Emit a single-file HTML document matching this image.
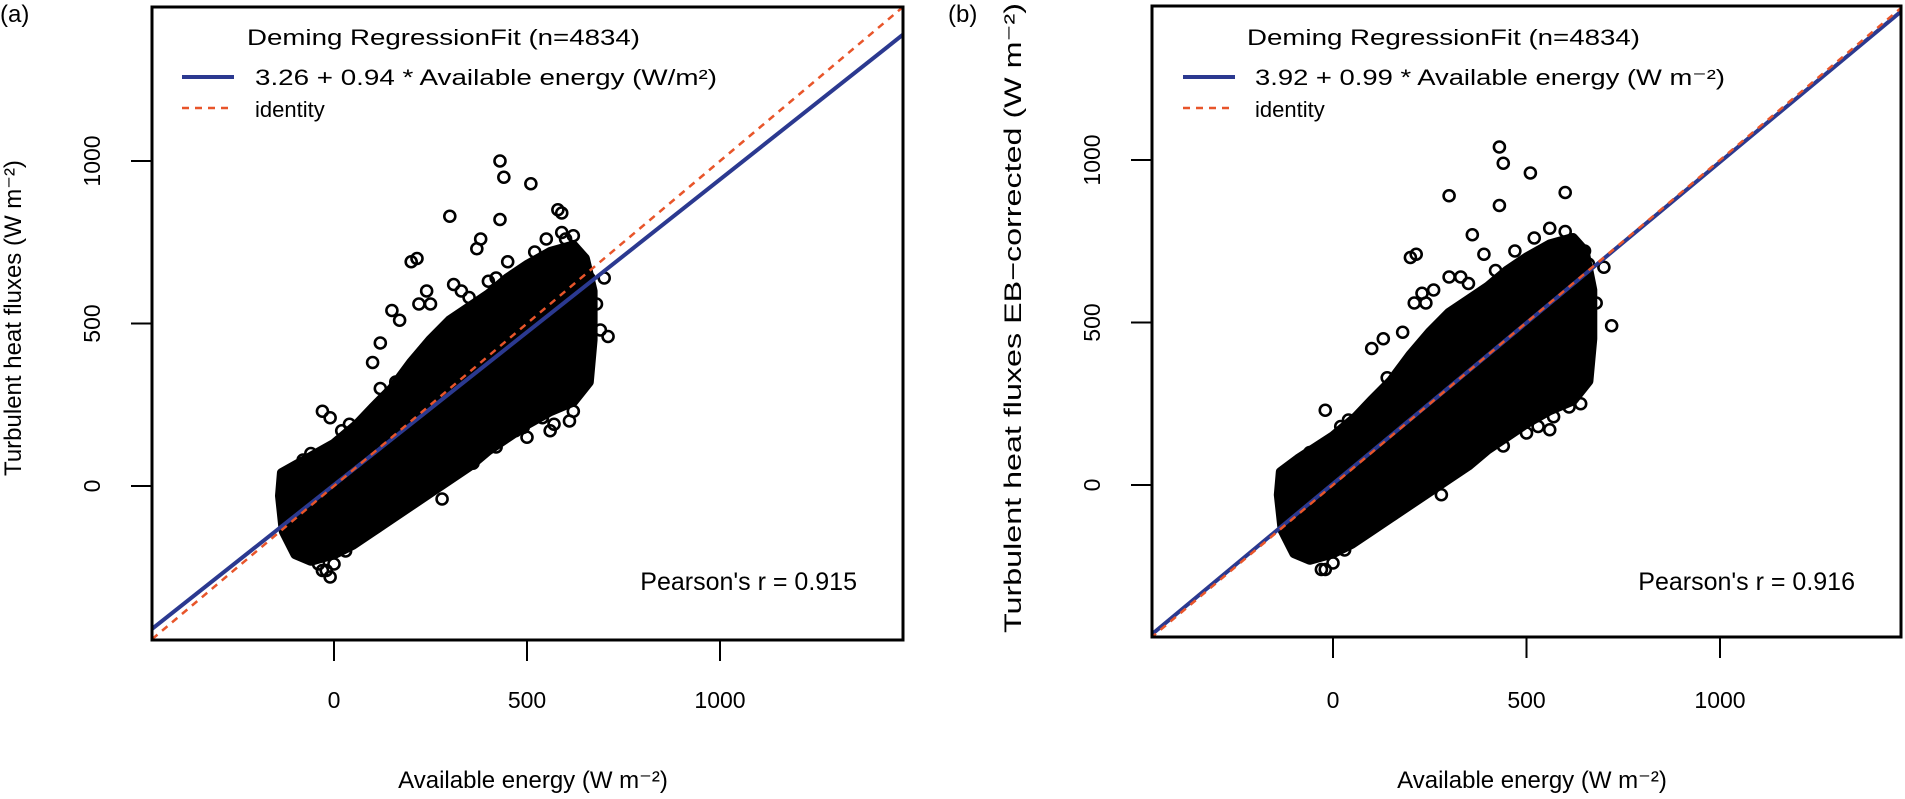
<!DOCTYPE html>
<html><head><meta charset="utf-8"><style>
html,body{margin:0;padding:0;background:#fff}
svg{display:block;font-family:"Liberation Sans",Arial,sans-serif}
</style></head><body>
<svg id="chart" width="1905" height="799" viewBox="0 0 1905 799" xmlns="http://www.w3.org/2000/svg">
<defs>
<clipPath id="clipA"><rect x="152" y="7" width="751" height="633"/></clipPath>
<clipPath id="clipB"><rect x="1152" y="6" width="749" height="631"/></clipPath>
</defs>
<g id="panelA"></g>
<g id="panelB"></g>
</svg>
<script>
const xTicks = [0, 500, 1000];
const yTicks = [0, 500, 1000];
const interceptA = 3.26, slopeA = 0.94;
const interceptB = 3.92, slopeB = 0.99;
const pearsonA = "0.915", pearsonB = "0.916";
// dense cloud outline (data units: available energy, turbulent flux)
const cloudA = [[-140,-30],[-135,40],[-90,70],[0,130],[60,190],[100,240],[150,300],[200,380],[250,450],[300,510],[350,550],[400,590],[450,640],[500,680],[560,720],[620,740],[650,700],[670,600],[670,450],[660,320],[620,260],[560,230],[500,190],[450,150],[400,110],[350,60],[300,20],[250,-20],[200,-60],[150,-100],[100,-140],[50,-180],[0,-210],[-60,-230],[-100,-210],[-130,-140]];
const cloudB = [[-140,-30],[-135,40],[-90,80],[0,150],[60,210],[100,260],[150,320],[200,400],[250,470],[300,530],[350,570],[400,610],[450,660],[500,700],[560,740],[620,760],[650,720],[670,600],[670,450],[660,320],[620,260],[560,230],[500,190],[450,150],[400,110],[350,60],[300,20],[250,-20],[200,-60],[150,-100],[100,-140],[50,-180],[0,-210],[-60,-230],[-100,-210],[-130,-140]];
const outX_A = [430,440,510,300,430,580,590,200,215,370,420,380,590,620,660,700,150,170,100,120,-10,-30,490,500,480,540,620,710,290,-50,-40,-20,-10,50,80,280,330,250,120,60,-90,-110,560,610,220,240,310,350,400,450,520,550,600,640,680,690,40,20,-60,-80,160,200,260,360,420,470,530,570,640,650,0,30,-30];
const outY_A = [1000,950,930,830,820,850,840,690,700,730,640,760,780,770,640,640,540,510,380,440,210,230,180,150,250,210,230,460,150,-210,-240,-260,-280,-150,-120,-40,600,560,300,150,60,-40,170,200,560,600,620,580,630,690,720,760,760,700,560,480,190,170,100,80,320,-20,10,70,120,170,230,190,300,380,-240,-200,-260];
const outX_B = [430,440,510,300,430,600,200,215,360,390,230,240,100,130,-20,480,570,640,720,700,660,-50,-20,60,280,400,500,330,260,140,-90,-110,610,560,180,210,300,350,420,470,520,560,600,650,680,40,20,-60,160,220,360,440,530,640,0,30,-30];
const outY_B = [1040,990,960,890,860,900,700,710,770,710,590,560,420,450,230,200,210,250,490,670,680,-210,-260,-150,-30,140,160,640,600,330,60,-40,240,170,470,560,640,620,660,720,760,790,780,720,560,200,180,100,-20,10,80,120,180,300,-240,-200,-260];

const NS = "http://www.w3.org/2000/svg";
function mk(tag, attrs, parent){const e=document.createElementNS(NS,tag);for(const k in attrs)e.setAttribute(k,attrs[k]);parent.appendChild(e);return e;}

function drawPanel(g, cfg){
  const sx = v => cfg.x0 + v*cfg.kx;
  const sy = v => cfg.y0 - v*cfg.ky;
  const inner = mk("g",{"clip-path":"url(#"+cfg.clip+")"},g);
  const pts = cfg.cloud.map(p=>sx(p[0]).toFixed(1)+","+sy(p[1]).toFixed(1)).join(" ");
  const poly = mk("polygon",{points:pts,fill:"#000",stroke:"#000","stroke-width":"10","stroke-linejoin":"round"},inner);
  
  
  for(let i=0;i<cfg.ox.length;i++){
    const c = mk("circle",{cx:sx(cfg.ox[i]),cy:sy(cfg.oy[i]),r:5.5,fill:"none",stroke:"#000","stroke-width":2.6},inner);
    
    
  }
  const lo=-600, hi=1600;
  const fit = mk("line",{x1:sx(lo),y1:sy(cfg.b+cfg.m*lo),x2:sx(hi),y2:sy(cfg.b+cfg.m*hi),stroke:"#2b3990","stroke-width":4},inner);
  
  
  const id = mk("line",{x1:sx(lo),y1:sy(lo),x2:sx(hi),y2:sy(hi),stroke:"#e8552a","stroke-width":2.5,"stroke-dasharray":"7,6"},inner);
  
  
  const box = mk("rect",{x:cfg.bx,y:cfg.by,width:cfg.bw,height:cfg.bh,fill:"none",stroke:"#000","stroke-width":3},g);
  
  
  const bottom = cfg.by+cfg.bh;
  xTicks.forEach(t=>{
    const l = mk("line",{x1:sx(t),y1:bottom,x2:sx(t),y2:bottom+21,stroke:"#000","stroke-width":2},g);
    
    
    const tx = mk("text",{x:sx(t),y:708,"font-size":23,"text-anchor":"middle"},g);
    tx.textContent = t;
    
    
  });
  yTicks.forEach(t=>{
    const l = mk("line",{x1:cfg.bx,y1:sy(t),x2:cfg.bx-21,y2:sy(t),stroke:"#000","stroke-width":2},g);
    
    
    const tx = mk("text",{x:0,y:0,"font-size":23,"text-anchor":"middle",transform:"translate("+(cfg.bx-52)+","+sy(t)+") rotate(-90)"},g);
    tx.textContent = t;
    
    
  });
}

const gA = document.getElementById("panelA");
const gB = document.getElementById("panelB");
drawPanel(gA,{x0:334,kx:0.386,y0:486,ky:0.325,clip:"clipA",cloud:cloudA,ox:outX_A,oy:outY_A,b:interceptA,m:slopeA,bx:152,by:7,bw:751,bh:633});
drawPanel(gB,{x0:1333,kx:0.387,y0:485,ky:0.325,clip:"clipB",cloud:cloudB,ox:outX_B,oy:outY_B,b:interceptB,m:slopeB,bx:1152,by:6,bw:749,bh:631});

function txt(g,name,content,attrs){const t=mk("text",attrs,g);t.textContent=content;return t;}
function legend(g,x0,lineX0,lineX1,eq,eqLen){
  txt(g,"legend-title","Deming RegressionFit (n=4834)",{x:x0,y:45,"font-size":22,textLength:393,lengthAdjust:"spacingAndGlyphs"});
  const l1=mk("line",{x1:lineX0,y1:77,x2:lineX1,y2:77,stroke:"#2b3990","stroke-width":4},g);
  
  
  txt(g,"legend-fit-label",eq,{x:x0+8,y:85,"font-size":22,textLength:eqLen,lengthAdjust:"spacingAndGlyphs"});
  const l2=mk("line",{x1:lineX0,y1:108,x2:lineX1,y2:108,stroke:"#e8552a","stroke-width":2.5,"stroke-dasharray":"7,6"},g);
  
  
  txt(g,"legend-identity-label","identity",{x:x0+8,y:117,"font-size":22});
}
legend(gA,247,182,234,"3.26 + 0.94 * Available energy (W/m²)",462);
legend(gB,1247,1183,1235,"3.92 + 0.99 * Available energy (W m⁻²)",470);
txt(gA,"pearson-r","Pearson's r = "+pearsonA,{x:857,y:590,"font-size":25,"text-anchor":"end"});
txt(gB,"pearson-r","Pearson's r = "+pearsonB,{x:1855,y:590,"font-size":25,"text-anchor":"end"});
txt(gA,"x-axis-title","Available energy (W m⁻²)",{x:533,y:788,"font-size":24,"text-anchor":"middle"});
txt(gB,"x-axis-title","Available energy (W m⁻²)",{x:1532,y:788,"font-size":24,"text-anchor":"middle"});
txt(gA,"y-axis-title","Turbulent heat fluxes (W m⁻²)",{x:0,y:0,"font-size":24,"text-anchor":"middle",transform:"translate(21,318) rotate(-90)"});
txt(gB,"y-axis-title","Turbulent heat fluxes EB−corrected (W m⁻²)",{x:0,y:0,"font-size":24,"text-anchor":"middle",transform:"translate(1021,318) rotate(-90)",textLength:630,lengthAdjust:"spacingAndGlyphs"});
txt(gA,"panel-label-a","(a)",{x:0,y:22,"font-size":24});
txt(gB,"panel-label-b","(b)",{x:948,y:22,"font-size":24});
</script>
</body></html>
